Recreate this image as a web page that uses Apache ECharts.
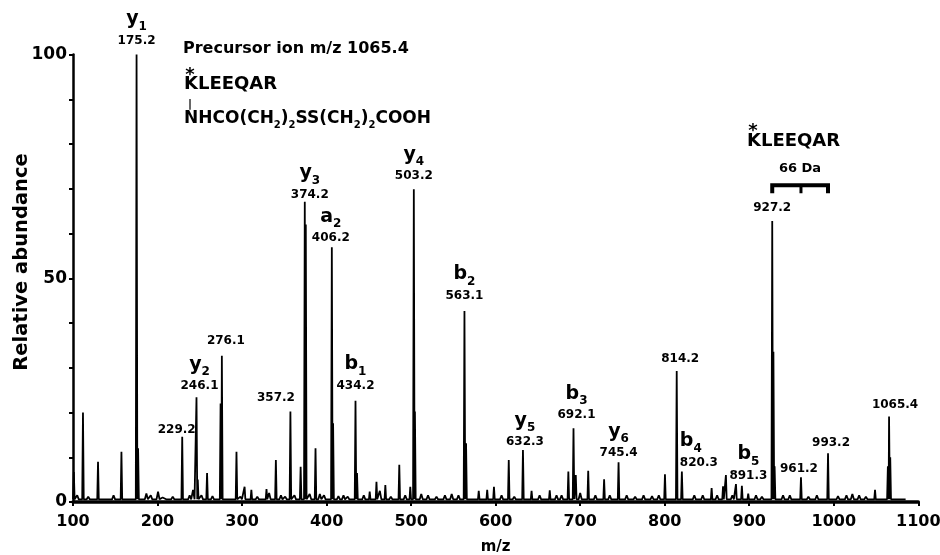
<!DOCTYPE html>
<html>
<head>
<meta charset="utf-8">
<script src="https://cdn.jsdelivr.net/npm/echarts@6/dist/echarts.min.js"></script>
<style>
html,body{margin:0;padding:0;background:#fff;}
#chart{width:940px;height:555px;}
</style>
</head>
<body>
<div id="chart"></div>
<script>
// ---- data ----
const peakMz  = [101.0, 111.8, 129.6, 157.3, 175.2, 177.0, 229.2, 246.1, 247.6, 258.6, 274.6, 276.1, 293.4, 303.0, 311.0, 328.9, 340.0, 357.2, 369.3, 374.2, 375.4, 386.9, 406.2, 407.7, 434.2, 436.0, 451.0, 459.0, 469.5, 486.0, 499.0, 503.2, 504.5, 563.1, 565.0, 580.0, 590.0, 598.0, 615.5, 632.3, 642.5, 664.0, 686.0, 692.1, 694.8, 709.5, 728.3, 745.4, 800.3, 814.2, 820.3, 855.5, 869.0, 872.4, 884.3, 891.3, 898.8, 927.2, 928.6, 930.0, 961.2, 993.2, 1048.8, 1064.0, 1065.4, 1066.8];
const peakInt = [6.7, 20.0, 9.0, 11.2, 100, 12.0, 14.6, 23.4, 5.0, 6.5, 22.0, 32.7, 11.2, 3.4, 2.7, 2.9, 9.4, 20.2, 7.9, 67.1, 62.0, 12.0, 56.9, 17.6, 22.6, 6.5, 2.3, 4.5, 3.8, 8.3, 3.4, 69.9, 20.2, 42.7, 13.1, 2.5, 2.7, 3.4, 9.4, 11.6, 2.5, 2.6, 6.8, 16.5, 6.0, 7.0, 5.1, 8.9, 6.2, 29.3, 6.8, 3.1, 3.5, 6.0, 4.0, 3.6, 1.9, 62.8, 33.6, 8.0, 5.5, 10.9, 2.7, 8.0, 19.1, 10.0];
const noiseMz  = [105, 118, 140, 148, 166, 186.8, 192, 200.6, 206, 212, 218, 238, 242, 252, 265, 283, 298, 318, 332, 346, 351, 362, 380, 392, 397, 414, 420, 425, 444, 463, 476, 493, 512, 520, 530, 540, 548, 556, 607, 622, 652, 672, 678, 700, 718, 735, 755, 765, 775, 785, 793, 835, 845, 862, 880, 908, 915, 940, 948, 970, 980, 1005, 1015, 1022, 1030, 1038, 1055, 1075];
const noiseInt = [1.5, 1.2, 1.0, 1.5, 1.0, 1.9, 1.5, 2.3, 1.0, 1.0, 1.2, 1.5, 2.7, 1.5, 1.3, 1.0, 1.2, 1.2, 2.0, 1.5, 1.2, 1.5, 1.8, 1.8, 1.5, 1.3, 1.5, 1.2, 1.5, 2.5, 1.2, 1.5, 1.8, 1.5, 1.2, 1.5, 1.8, 1.5, 1.5, 1.2, 1.5, 1.5, 1.5, 2.0, 1.5, 1.5, 1.5, 1.2, 1.5, 1.3, 1.5, 1.5, 1.5, 1.5, 1.5, 1.5, 1.2, 1.5, 1.5, 1.2, 1.5, 1.3, 1.5, 1.8, 1.5, 1.2, 1.0, 1.0];
const baseLevel = 0.6;
const spectrumStart = 100, spectrumEnd = 1085;

// annotated peaks
const annMz   = [175.2, 229.2, 246.1, 276.1, 357.2, 374.2, 406.2, 434.2, 503.2, 563.1, 632.3, 692.1, 745.4, 814.2, 820.3, 891.3, 927.2, 961.2, 993.2, 1065.4];
const annIon  = ['y', '', 'y', '', '', 'y', 'a', 'b', 'y', 'b', 'y', 'b', 'y', '', 'b', 'b', '', '', '', ''];
const annSub  = ['1', '', '2', '', '', '3', '2', '1', '4', '2', '5', '3', '6', '', '4', '5', '', '', '', ''];
const annText = ['175.2', '229.2', '246.1', '276.1', '357.2', '374.2', '406.2', '434.2', '503.2', '563.1', '632.3', '692.1', '745.4', '814.2', '820.3', '891.3', '927.2', '961.2', '993.2', '1065.4'];

// 66 Da bracket (m/z of ends and middle tick, level)
const bracketMz = [927.2, 961.2, 993.2];
const bracketTop = 70.8, bracketFoot = 69.0;

// axes
const xMin = 100, xMax = 1100, xStep = 100;
const yMin = 0, yMax = 100, yStep = 10;
const yLabelsShown = [0, 50, 100];

// ---- label nudges (pixels: dx, number-centre offset from peak top) ----
const labelNudge = {
  '175.2': [0, -14], '229.2': [-5.5, -7], '246.1': [3, -11], '276.1': [4, -15],
  '357.2': [-14.5, -14], '374.2': [5, -7], '406.2': [-1, -9], '434.2': [0, -15],
  '503.2': [0, -13], '563.1': [0, -15], '632.3': [2, -8], '692.1': [3, -13],
  '745.4': [0, -9], '814.2': [3.5, -12], '820.3': [-2, -9], '891.3': [6.5, -10],
  '927.2': [0, -13.5], '961.2': [-2, -8.5], '993.2': [3, -10.5], '1065.4': [6, -11.5]
};
const leftAligned = {'820.3': true};

const FONT = 'DejaVu Sans';

// ---- build spectrum polyline ----
const sticks = [];
peakMz.forEach((m, i) => sticks.push({m: m, h: peakInt[i], w: 0.9}));
noiseMz.forEach((m, i) => sticks.push({m: m, h: noiseInt[i], w: 1.8}));
sticks.sort((a, b) => a.m - b.m);
const spectrum = [[spectrumStart, baseLevel]];
sticks.forEach(s => {
  spectrum.push([s.m - s.w, baseLevel]);
  spectrum.push([s.m, s.h]);
  spectrum.push([s.m + s.w, baseLevel]);
});
spectrum.push([spectrumEnd, baseLevel]);

function heightAt(m) {
  let best = null;
  peakMz.forEach((p, i) => { if (Math.abs(p - m) < 0.05) best = peakInt[i]; });
  return best;
}

const annData = annMz.map((m, i) => {
  const nudge = labelNudge[annText[i]] || [0, -10];
  const ion = annIon[i] ? '{ion|' + annIon[i] + '}{sub|' + annSub[i] + '}\n' : '';
  return {
    value: [m, heightAt(m)],
    label: {
      formatter: ion + '{num|' + annText[i] + '}',
      offset: [nudge[0], nudge[1] + 8],
      align: leftAligned[annText[i]] ? 'left' : 'center'
    }
  };
});

const bracketMain = [[bracketMz[0], bracketFoot], [bracketMz[0], bracketTop], [bracketMz[2], bracketTop], [bracketMz[2], bracketFoot]];
const bracketMid = [[bracketMz[1], bracketTop], [bracketMz[1], bracketFoot]];

const chart = echarts.init(document.getElementById('chart'), null, {renderer: 'canvas'});
const txt = {fontFamily: FONT, fontWeight: 'bold', fill: '#000'};

chart.setOption({
  animation: false,
  backgroundColor: '#fff',
  grid: {left: 73, right: 21.7, top: 54.5, bottom: 53, containLabel: false, outerBoundsMode: 'none'},
  xAxis: {
    type: 'value', min: xMin, max: xMax, interval: xStep,
    name: 'm/z', nameLocation: 'middle', nameGap: 38,
    nameTextStyle: {fontFamily: FONT, fontWeight: 'bold', fontSize: 15, color: '#000'},
    axisLine: {lineStyle: {color: '#000', width: 3.5}},
    axisTick: {show: true, length: 4, lineStyle: {color: '#000', width: 2}},
    axisLabel: {fontFamily: FONT, fontWeight: 'bold', fontSize: 16, color: '#000', margin: 12,
      formatter: v => String(v)},
    splitLine: {show: false}
  },
  yAxis: {
    type: 'value', min: yMin, max: yMax, interval: yStep,
    axisLine: {show: true, lineStyle: {color: '#000', width: 2.5}},
    axisTick: {show: true, length: 4, lineStyle: {color: '#000', width: 2}},
    axisLabel: {
      fontFamily: FONT, fontWeight: 'bold', fontSize: 17, color: '#000', margin: 6,
      formatter: v => (yLabelsShown.indexOf(v) >= 0 ? String(v) : '')
    },
    splitLine: {show: false}
  },
  series: [
    {
      type: 'line', data: spectrum, symbol: 'none', silent: true,
      lineStyle: {color: '#000', width: 1.8}, z: 3
    },
    {
      type: 'scatter', data: annData, symbolSize: 0, silent: true, z: 5,
      itemStyle: {opacity: 1, color: '#000'},
      label: {
        show: true, position: 'top', distance: 0, color: '#000', opacity: 1,
        rich: {
          ion: {fontFamily: FONT, fontWeight: 'bold', fontSize: 19, lineHeight: 27, color: '#000'},
          sub: {fontFamily: FONT, fontWeight: 'bold', fontSize: 12, lineHeight: 13.5, verticalAlign: 'bottom', color: '#000'},
          num: {fontFamily: FONT, fontWeight: 'bold', fontSize: 12, lineHeight: 16, color: '#000'}
        }
      }
    },
    {
      type: 'line', data: bracketMain, symbol: 'none', silent: true,
      lineStyle: {color: '#000', width: 4, join: 'miter', cap: 'butt'}, z: 4
    },
    {
      type: 'line', data: bracketMid, symbol: 'none', silent: true,
      lineStyle: {color: '#000', width: 3, cap: 'butt'}, z: 4
    }
  ],
  graphic: [
    {type: 'text', x: 21.5, y: 262, rotation: Math.PI / 2,
     style: Object.assign({text: 'Relative abundance', fontSize: 19.5, textAlign: 'center', textVerticalAlign: 'middle'}, txt)},
    {type: 'text', x: 183, y: 49,
     style: Object.assign({text: 'Precursor ion m/z 1065.4', fontSize: 16, textAlign: 'left', textVerticalAlign: 'middle'}, txt)},
    {type: 'text', x: 190, y: 75,
     style: Object.assign({text: '*', fontSize: 18, textAlign: 'center', textVerticalAlign: 'middle'}, txt)},
    {type: 'text', x: 184, y: 84,
     style: Object.assign({text: 'KLEEQAR', fontSize: 18, textAlign: 'left', textVerticalAlign: 'middle'}, txt)},
    {type: 'text', x: 190, y: 104,
     style: Object.assign({text: '|', fontSize: 11, textAlign: 'center', textVerticalAlign: 'middle'}, txt)},
    {type: 'text', x: 184, y: 119,
     style: Object.assign({
       text: 'NHCO(CH{s|2}){s|2}SS(CH{s|2}){s|2}COOH', fontSize: 17, lineHeight: 22,
       textAlign: 'left', textVerticalAlign: 'middle',
       rich: {s: {fontFamily: FONT, fontWeight: 'bold', fontSize: 10, lineHeight: 11, verticalAlign: 'bottom', fill: '#000'}}
     }, txt)},
    {type: 'text', x: 753, y: 131,
     style: Object.assign({text: '*', fontSize: 18, textAlign: 'center', textVerticalAlign: 'middle'}, txt)},
    {type: 'text', x: 747, y: 141.5,
     style: Object.assign({text: 'KLEEQAR', fontSize: 18, textAlign: 'left', textVerticalAlign: 'middle'}, txt)},
    {type: 'text', x: 800, y: 168.5,
     style: Object.assign({text: '66 Da', fontSize: 13, textAlign: 'center', textVerticalAlign: 'middle'}, txt)}
  ]
});
</script>
</body>
</html>
